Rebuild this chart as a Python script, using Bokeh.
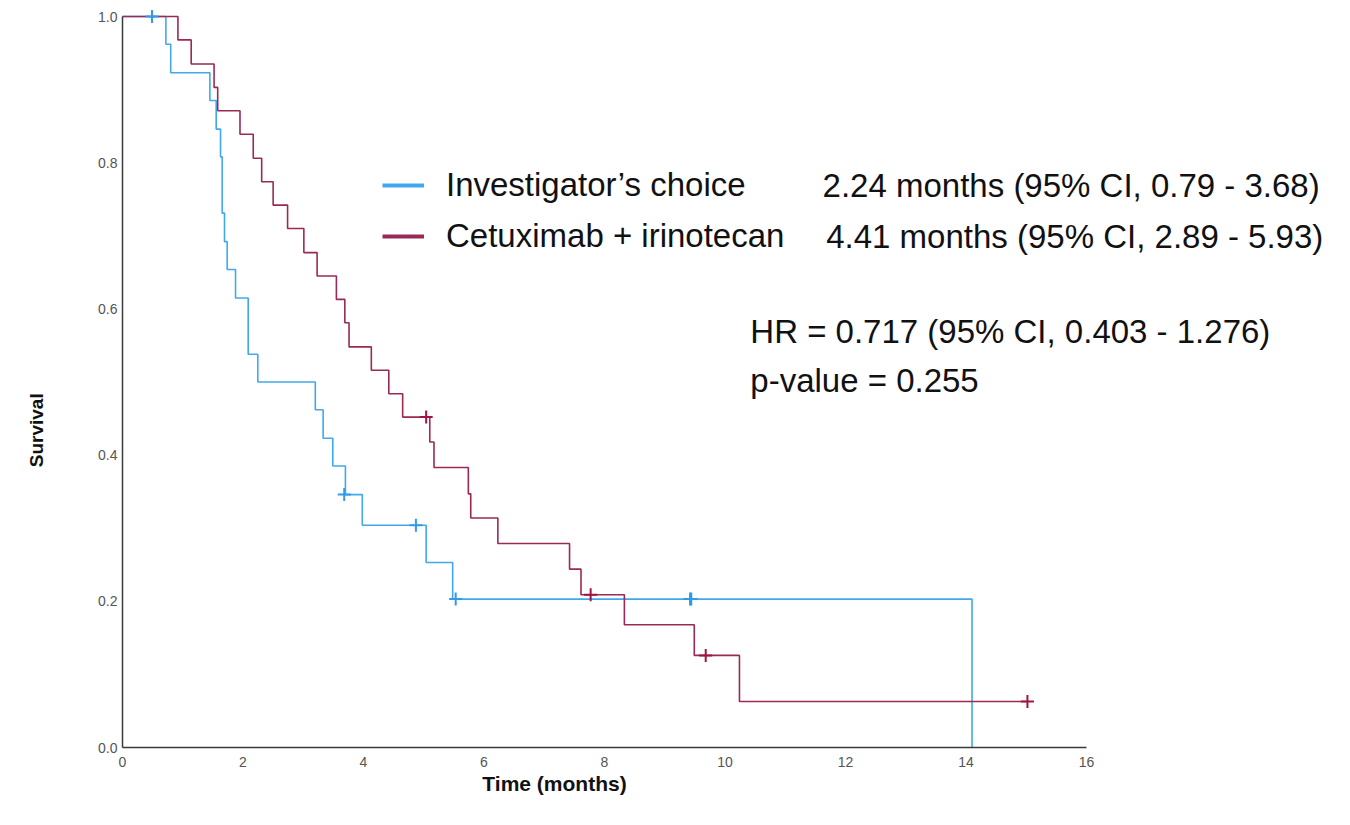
from bokeh.plotting import figure
from bokeh.models import Range1d, FixedTicker, PrintfTickFormatter, Label, Legend, LegendItem
from bokeh.embed import file_html
from bokeh.resources import INLINE
from math import pi

# Kaplan-Meier step points: time (months) and survival after each event
ic_time = [0, 0.72, 0.80, 1.45, 1.555, 1.627, 1.654, 1.693, 1.737, 1.876, 2.086, 2.246,
           3.20, 3.33, 3.49, 3.70, 3.98, 5.04, 5.48, 14.10]
ic_surv = [1.0, 0.962, 0.923, 0.885, 0.846, 0.808, 0.731, 0.692, 0.654, 0.615, 0.538, 0.500,
           0.462, 0.423, 0.385, 0.346, 0.304, 0.253, 0.203, 0.0]
ic_cens_time = [0.49, 3.68, 4.87, 5.53, 9.42, 9.44]
ic_cens_surv = [1.0, 0.346, 0.304, 0.203, 0.203, 0.203]

ci_time = [0, 0.92, 1.14, 1.52, 1.58, 1.95, 2.17, 2.31, 2.50, 2.74, 3.01, 3.23, 3.55, 3.69,
           3.76, 4.13, 4.42, 4.65, 5.10, 5.17, 5.74, 5.78, 6.23, 7.42, 7.61, 8.33, 9.49,
           10.24, 15.02]
ci_surv = [1.0, 0.968, 0.935, 0.903, 0.871, 0.839, 0.806, 0.774, 0.742, 0.710, 0.677, 0.645,
           0.613, 0.581, 0.548, 0.516, 0.484, 0.452, 0.418, 0.383, 0.347, 0.314, 0.279,
           0.244, 0.209, 0.168, 0.126, 0.063, 0.063]
ci_cens_time = [5.04, 7.77, 9.68, 15.02]
ci_cens_surv = [0.452, 0.209, 0.126, 0.063]

groups = ["Investigator\u2019s choice", "Cetuximab + irinotecan"]
medians = ["2.24 months (95% CI, 0.79 - 3.68)", "4.41 months (95% CI, 2.89 - 5.93)"]
stats = ["HR = 0.717 (95% CI, 0.403 - 1.276)", "p-value = 0.255"]

x_ticks = [0, 2, 4, 6, 8, 10, 12, 14, 16]
y_ticks = [0.0, 0.2, 0.4, 0.6, 0.8, 1.0]
x_bounds = (0, 16)
y_bounds = (0, 1)

BLUE = "#42A8EE"
RED = "#9A2A55"
BLUE_MARK = "#2F9BEB"
RED_MARK = "#A0153F"
FONT = "Liberation Sans"
INK = "#111111"

# the plotting frame spans the whole canvas; axes sit at fixed data positions
p = figure(width=1350, height=825,
           x_range=Range1d(-2.025, 20.382), y_range=Range1d(-0.1067, 1.0219),
           output_backend="svg", toolbar_location=None,
           min_border_left=0, min_border_right=0, min_border_top=0, min_border_bottom=0)
p.outline_line_color = None
p.grid.visible = False
p.background_fill_color = "white"

p.xaxis.fixed_location = 0
p.yaxis.fixed_location = 0
p.xaxis.bounds = x_bounds
p.yaxis.bounds = y_bounds

for ax in (p.xaxis[0], p.yaxis[0]):
    ax.axis_line_color = "#3a3a3a"
    ax.axis_line_width = 1.5
    ax.major_tick_line_color = None
    ax.minor_tick_line_color = None
    ax.major_tick_out = 0
    ax.major_tick_in = 0
    ax.major_label_text_font = FONT
    ax.major_label_text_font_size = "14px"
    ax.major_label_text_color = "#555555"

p.xaxis.ticker = FixedTicker(ticks=x_ticks)
p.yaxis.ticker = FixedTicker(ticks=y_ticks)
p.yaxis.formatter = PrintfTickFormatter(format="%.1f")
p.xaxis.major_label_standoff = 9
p.yaxis.major_label_standoff = 5

# survival curves
p.step(ic_time, ic_surv, mode="after", line_color=BLUE, line_width=1.6)
p.step(ci_time, ci_surv, mode="after", line_color=RED, line_width=1.6)

# censored observations
p.scatter(ic_cens_time, ic_cens_surv, marker="cross", size=13, line_color=BLUE_MARK, line_width=2)
p.scatter(ci_cens_time, ci_cens_surv, marker="cross", size=13, line_color=RED_MARK, line_width=2)

# legend swatches, drawn thicker than the curves
sw_ic = p.line(x=ic_time[:1], y=ic_surv[:1], line_color=BLUE, line_width=4)
sw_ci = p.line(x=ci_time[:1], y=ci_surv[:1], line_color=RED, line_width=4)
legend = Legend(items=[LegendItem(label=groups[0], renderers=[sw_ic]),
                       LegendItem(label=groups[1], renderers=[sw_ci])],
                location=(382, 566), glyph_width=42, glyph_height=46, label_height=46,
                label_standoff=22, spacing=5, padding=0, margin=0,
                border_line_color=None, background_fill_alpha=0,
                label_text_font=FONT, label_text_font_size="33px",
                label_text_color=INK)
p.add_layout(legend)

# median survival per group
for txt, (xx, yy) in zip(medians, [(11.62, 0.769), (11.68, 0.699)]):
    p.add_layout(Label(x=xx, y=yy, text=txt, text_font=FONT, text_font_size="33px",
                       text_baseline="middle", text_color=INK))

# hazard ratio and log-rank p-value
for txt, (xx, yy) in zip(stats, [(10.42, 0.569), (10.42, 0.502)]):
    p.add_layout(Label(x=xx, y=yy, text=txt, text_font=FONT, text_font_size="33px",
                       text_baseline="middle", text_color=INK))

# axis titles
p.add_layout(Label(x=-1.43, y=0.434, text="Survival", angle=pi / 2, text_font=FONT,
                   text_font_style="bold", text_font_size="19px", text_align="center",
                   text_baseline="middle", text_color=INK))
p.add_layout(Label(x=7.17, y=-0.049, text="Time (months)", text_font=FONT,
                   text_font_style="bold", text_font_size="21px", text_align="center",
                   text_baseline="middle", text_color=INK))

open("out.html", "w").write(file_html(p, INLINE))
